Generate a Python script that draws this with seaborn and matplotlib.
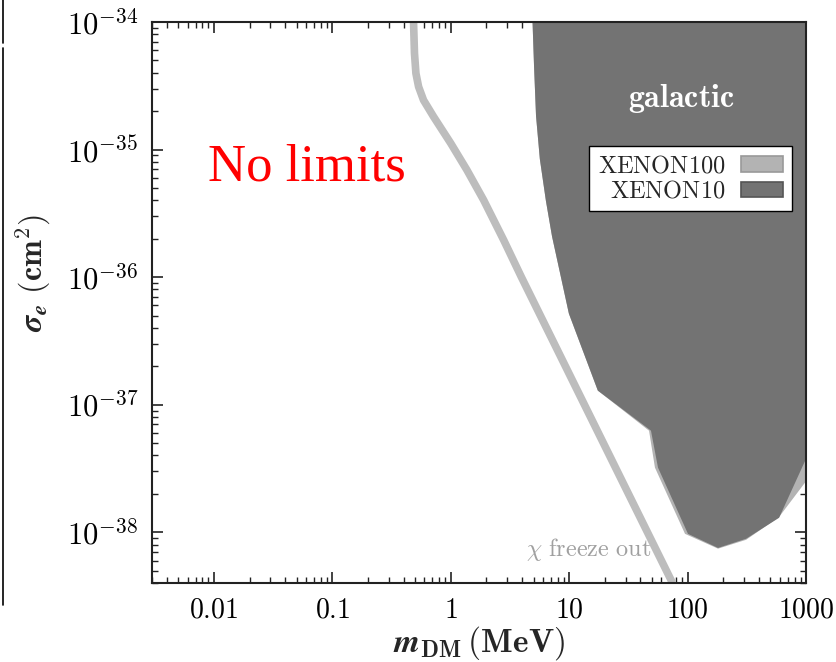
import numpy as np
import pandas as pd
import matplotlib
matplotlib.use("Agg")
import matplotlib.pyplot as plt
import matplotlib.ticker as mticker
from matplotlib.patches import Patch
from matplotlib.lines import Line2D
import seaborn as sns

# DM freeze-out target line: mass (MeV) vs cross section (cm^2)
freeze_mass = [0.485, 0.494, 0.508, 0.535, 0.589, 0.716, 1.0, 1.371, 1.895, 2.80, 3.95, 74.6]
freeze_sigma = [1e-34, 5.69e-35, 3.96e-35, 3.11e-35, 2.44e-35, 1.81e-35, 1.12e-35,
                6.9e-36, 4.02e-36, 1.95e-36, 1.0e-36, 4.0e-39]

# XENON10 excluded region: lower edge of the band
xe10_mass = [4.86, 5.0, 5.2, 5.6, 6.3, 7.1, 9.85, 17.3, 48.6, 55.7, 99.8, 179, 309, 587, 1000]
xe10_sigma = [1e-34, 4.6e-35, 1.85e-35, 8.5e-36, 4.0e-36, 2.1e-36, 5.22e-37, 1.30e-37,
              6.31e-38, 3.24e-38, 9.8e-39, 7.6e-39, 8.97e-39, 1.31e-38, 3.87e-38]

# XENON100 excluded region: lower edge of the band
xe100_mass = [4.86, 5.0, 5.2, 5.6, 6.3, 7.1, 9.85, 17.3, 46.8, 52.5, 94.2, 179, 309, 587, 1000]
xe100_sigma = [1e-34, 4.6e-35, 1.85e-35, 8.5e-36, 4.0e-36, 2.1e-36, 5.22e-37, 1.30e-37,
               6.31e-38, 3.24e-38, 9.8e-39, 7.5e-39, 8.8e-39, 1.33e-38, 2.56e-38]

x_ticks = [0.01, 0.1, 1, 10, 100, 1000]
x_ticklabels = ["0.01", "0.1", "1", "10", "100", "1000"]
y_ticks = [1e-38, 1e-37, 1e-36, 1e-35, 1e-34]
y_ticklabels = [r"$10^{-38}$", r"$10^{-37}$", r"$10^{-36}$", r"$10^{-35}$", r"$10^{-34}$"]

SIGMA_TOP = 1e-34
LIGHT = "#b3b3b3"
DARK = "#737373"

sns.set_theme(style="ticks")
plt.rcParams["mathtext.fontset"] = "cm"
plt.rcParams["font.family"] = ["DejaVu Serif"]

fig = plt.figure(figsize=(8.36, 6.62), dpi=100)
ax = fig.add_axes([152 / 836, 1 - 583 / 662, 654 / 836, 561 / 662])

# excluded regions (XENON100 underneath XENON10)
ax.fill_between(xe100_mass, xe100_sigma, SIGMA_TOP, color=LIGHT, lw=0, zorder=1)
ax.fill_between(xe10_mass, xe10_sigma, SIGMA_TOP, color=DARK, lw=0, zorder=2)

freeze = pd.DataFrame({"m": freeze_mass, "sigma": freeze_sigma})
sns.lineplot(data=freeze, x="m", y="sigma", ax=ax, color="#bdbdbd", lw=5.5,
             sort=False, zorder=3, solid_capstyle="butt", solid_joinstyle="round")

ax.set_xscale("log")
ax.set_yscale("log")
ax.set_xlim(0.003, 1000)
ax.set_ylim(4e-39, 1e-34)

ax.set_xticks(x_ticks)
ax.set_xticklabels([r"$%s$" % t for t in x_ticklabels])
ax.set_yticks(y_ticks)
ax.set_yticklabels(y_ticklabels)
ax.xaxis.set_minor_locator(mticker.LogLocator(base=10, subs=np.arange(2, 10), numticks=20))
ax.yaxis.set_minor_locator(mticker.LogLocator(base=10, subs=np.arange(2, 10), numticks=20))
ax.xaxis.set_minor_formatter(mticker.NullFormatter())
ax.yaxis.set_minor_formatter(mticker.NullFormatter())

ax.tick_params(which="both", direction="in", top=True, right=True, colors="#222222",
               labelcolor="black")
ax.tick_params(which="major", length=8, width=1.2, pad=10)
ax.tick_params(axis="x", which="major", labelsize=20)
ax.tick_params(axis="y", which="major", labelsize=22)
ax.tick_params(which="minor", length=4, width=1.0)
for s in ax.spines.values():
    s.set_linewidth(1.5)
    s.set_color("#222222")
    s.set_zorder(5)

ax.set_xlabel(r"$\mathbfit{m}_{\mathbf{DM}}\,\mathbf{(MeV)}$", fontsize=24, va="center")
ax.xaxis.set_label_coords(0.5, -0.107)
ax.set_ylabel(r"$\mathbfit{\sigma}_{\mathbfit{e}}\ \mathbf{(cm^2)}$", fontsize=23, va="center")
ax.yaxis.set_label_coords(-0.182, 0.553)

ax.text(0.237, 0.74, "No limits", transform=ax.transAxes, color="red",
        fontsize=38, family=["Liberation Serif", "DejaVu Serif"], ha="center", va="center")
ax.text(0.809, 0.864, r"$\mathbf{galactic}$", transform=ax.transAxes, color="white",
        fontsize=23, ha="center", va="center", zorder=6)
ax.text(0.667, 0.059, r"$\chi\ \mathrm{freeze\ out}$", transform=ax.transAxes,
        color="#a0a0a0", fontsize=17.5, ha="center", va="center", zorder=6)

handles = [Patch(facecolor=LIGHT, edgecolor="#999999", lw=1.2, label=r"$\mathrm{XENON100}$"),
           Patch(facecolor=DARK, edgecolor="#555555", lw=1.2, label=r"$\mathrm{XENON10}$")]
leg = ax.legend(handles=handles, loc="upper right", bbox_to_anchor=(0.9786, 0.779),
                markerfirst=False, fontsize=17.5, frameon=True, fancybox=False,
                framealpha=1, edgecolor="black", handlelength=1.75, handleheight=0.6,
                borderpad=0.35, labelspacing=0.1, handletextpad=0.65, borderaxespad=0)
leg.get_frame().set_linewidth(1.0)
leg.set_zorder(7)

# thin rule at the left margin
fig.add_artist(Line2D([3 / 836, 3 / 836], [1 - 43 / 662, 1.0], color="black", lw=1.2))
fig.add_artist(Line2D([3 / 836, 3 / 836], [1 - 605 / 662, 1 - 48 / 662], color="black", lw=1.2))

fig.savefig("out.png", dpi=100, facecolor="white")
